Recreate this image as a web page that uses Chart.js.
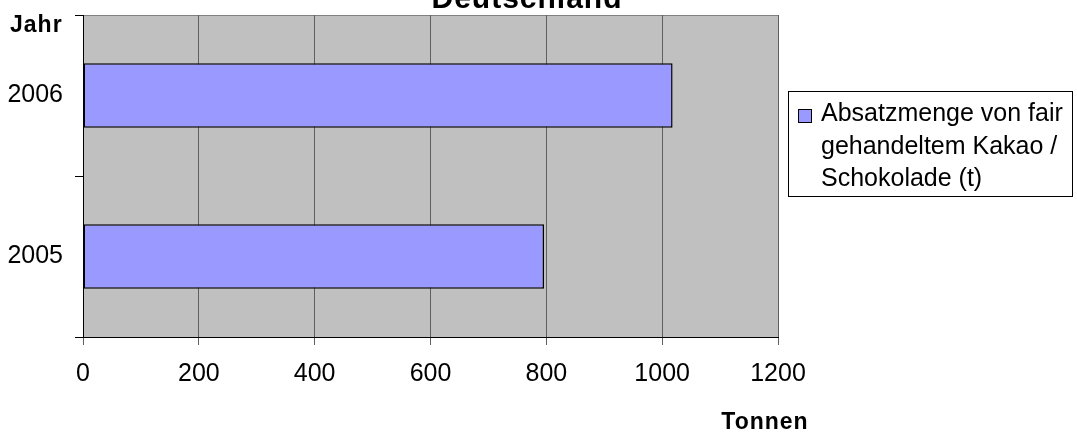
<!DOCTYPE html>
<html>
<head>
<meta charset="utf-8">
<script src="https://cdn.jsdelivr.net/npm/chart.js@4.4.1/dist/chart.umd.min.js"></script>
<style>
  html, body { margin: 0; padding: 0; background: #fff; }
  #wrap { width: 1077px; height: 434px; }
</style>
</head>
<body>
<div id="wrap"><canvas id="chart" width="1077" height="434"></canvas></div>
<script>
// Fair-Trade Kakao / Schokolade, Absatzmenge in Deutschland
const years = ['2005', '2006'];
const tonnes = [796, 1018];
const xTicks = [0, 200, 400, 600, 800, 1000, 1200];
const seriesLines = ['Absatzmenge von fair', 'gehandeltem Kakao /', 'Schokolade (t)'];
const titleText = 'Deutschland';
const yTitle = 'Jahr';
const xTitle = 'Tonnen';

const FONT = '"Liberation Sans", Arial, sans-serif';

// grey plot area + top border, drawn under the grid
const plotBg = {
  id: 'plotBg',
  beforeDraw(chart) {
    const { ctx, chartArea: a } = chart;
    ctx.save();
    ctx.fillStyle = '#C0C0C0';
    ctx.fillRect(a.left, a.top, a.right - a.left, a.bottom - a.top);
    ctx.strokeStyle = '#808080';
    ctx.lineWidth = 1;
    ctx.beginPath();
    ctx.moveTo(a.left, a.top + 0.5);
    ctx.lineTo(a.right, a.top + 0.5);
    ctx.stroke();
    ctx.restore();
  },
};

// title (cut off at the top), axis titles and the boxed legend
const extras = {
  id: 'extras',
  afterDraw(chart) {
    const { ctx } = chart;
    ctx.save();
    ctx.fillStyle = '#000';
    ctx.font = 'bold 30px ' + FONT;
    ctx.letterSpacing = '1px';
    ctx.textAlign = 'center';
    ctx.textBaseline = 'alphabetic';
    ctx.fillText(titleText, 527, 8);

    ctx.font = 'bold 23px ' + FONT;
    ctx.textAlign = 'left';
    ctx.fillText(yTitle, 10, 32);
    ctx.textAlign = 'center';
    ctx.fillText(xTitle, 765, 429);

    // legend
    ctx.letterSpacing = '0px';
    ctx.strokeStyle = '#000';
    ctx.lineWidth = 1;
    ctx.strokeRect(788.5, 91.5, 284, 105);
    ctx.fillStyle = chart.data.datasets[0].backgroundColor;
    ctx.fillRect(798, 109, 13, 13);
    ctx.strokeRect(798.5, 109.5, 13, 13);
    ctx.fillStyle = '#000';
    ctx.font = '25px ' + FONT;
    ctx.textAlign = 'left';
    seriesLines.forEach((line, i) => {
      ctx.fillText(line, 821, 121 + i * 32.5);
    });
    ctx.restore();
  },
};

new Chart(document.getElementById('chart'), {
  type: 'bar',
  data: {
    labels: years,
    datasets: [{
      label: seriesLines.join(' '),
      data: tonnes,
      backgroundColor: '#9999FF',
      borderColor: '#000000',
      borderWidth: 1.5,
      borderSkipped: false,
      categoryPercentage: 0.8,
      barPercentage: 0.5,
    }],
  },
  options: {
    indexAxis: 'y',
    responsive: false,
    animation: false,
    layout: { padding: { top: 15, right: 299, left: 0, bottom: 0 } },
    plugins: {
      legend: { display: false },
      tooltip: { enabled: false },
    },
    scales: {
      x: {
        min: 0,
        max: 1200,
        afterBuildTicks: (scale) => { scale.ticks = xTicks.map((v) => ({ value: v })); },
        afterFit: (scale) => { scale.height = 97; },
        ticks: {
          color: '#000',
          font: { family: FONT, size: 25 },
          padding: 14,
          maxRotation: 0,
          callback: (v) => String(v),
        },
        grid: { color: '#606060', lineWidth: 1, tickLength: 8, tickColor: '#606060' },
        border: { color: '#000', width: 1 },
      },
      y: {
        reverse: true,
        afterFit: (scale) => {
          scale.width = 83;
          scale.paddingTop = 0;
          scale.paddingBottom = 0;
        },
        ticks: { color: '#000', font: { family: FONT, size: 25 }, padding: 12 },
        grid: { drawOnChartArea: false, offset: true, tickLength: 8, color: '#000' },
        border: { color: '#000', width: 1 },
      },
    },
  },
  plugins: [plotBg, extras],
});
</script>
</body>
</html>
